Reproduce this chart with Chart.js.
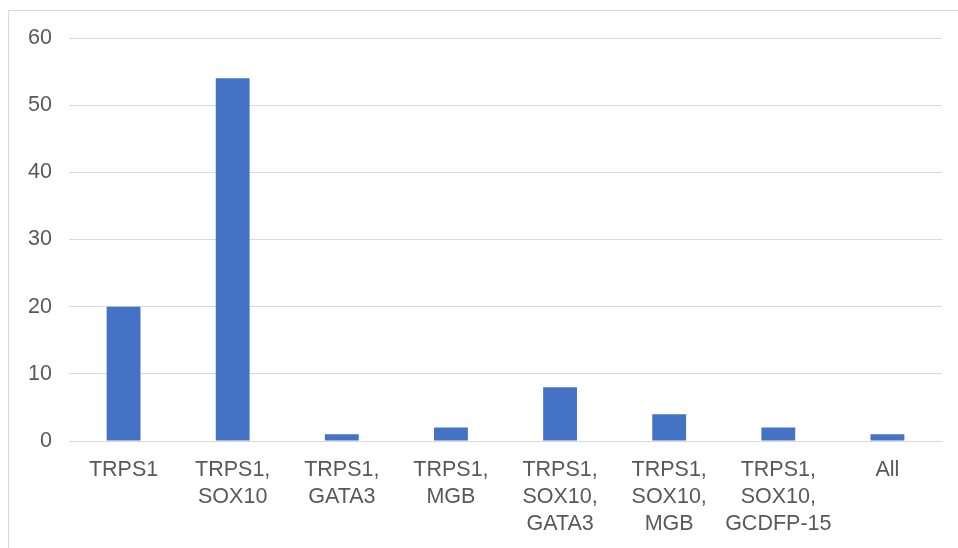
<!DOCTYPE html>
<html>
<head>
<meta charset="utf-8">
<script src="https://cdn.jsdelivr.net/npm/chart.js@4"></script>
<style>
  html, body { margin: 0; padding: 0; background: #fff; overflow: hidden; }
  #frame { position: absolute; left: 8px; top: 10px; width: 1100px; height: 700px; border: 1px solid #d9d9d9; }
  #wrap { position: absolute; left: 0; top: 0; width: 958px; height: 548px; }
</style>
</head>
<body>
<div id="frame"></div>
<div id="wrap"><canvas id="chart" width="958" height="548"></canvas></div>
<script>
const categories = [
  ['TRPS1'],
  ['TRPS1,', 'SOX10'],
  ['TRPS1,', 'GATA3'],
  ['TRPS1,', 'MGB'],
  ['TRPS1,', 'SOX10,', 'GATA3'],
  ['TRPS1,', 'SOX10,', 'MGB'],
  ['TRPS1,', 'SOX10,', 'GCDFP-15'],
  ['All']
];
const counts = [20, 54, 1, 2, 8, 4, 2, 1];
const yTicks = [0, 10, 20, 30, 40, 50, 60];

document.addEventListener('DOMContentLoaded', function () {
    const ctx = document.getElementById('chart').getContext('2d');
    const labelFont = { family: 'Liberation Sans, Arial, sans-serif', size: 21.5, lineHeight: '27px' };

    new Chart(ctx, {
        type: 'bar',
        data: {
            labels: categories,
            datasets: [{
                data: counts,
                backgroundColor: '#4472C4',
                borderWidth: 0,
                barPercentage: 0.31,
                categoryPercentage: 1
            }]
        },
        options: {
            responsive: false,
            animation: false,
            layout: { padding: { top: 38, right: 16, left: 0, bottom: 0 } },
            plugins: { legend: { display: false }, tooltip: { enabled: false } },
            scales: {
                x: {
                    grid: { display: false, drawTicks: false },
                    border: { display: true, color: '#d9d9d9', width: 1 },
                    ticks: { color: '#595959', font: labelFont, padding: 16, maxRotation: 0, autoSkip: false },
                    afterFit: function (s) { s.height = 107; }
                },
                y: {
                    min: 0,
                    max: 60,
                    afterBuildTicks: function (s) { s.ticks = yTicks.map(v => ({ value: v })); },
                    grid: { color: '#d9d9d9', drawTicks: false },
                    border: { display: false },
                    ticks: { color: '#595959', font: labelFont, padding: 17 },
                    afterFit: function (s) { s.width = 69; }
                }
            }
        }
    });
});
</script>
</body>
</html>
